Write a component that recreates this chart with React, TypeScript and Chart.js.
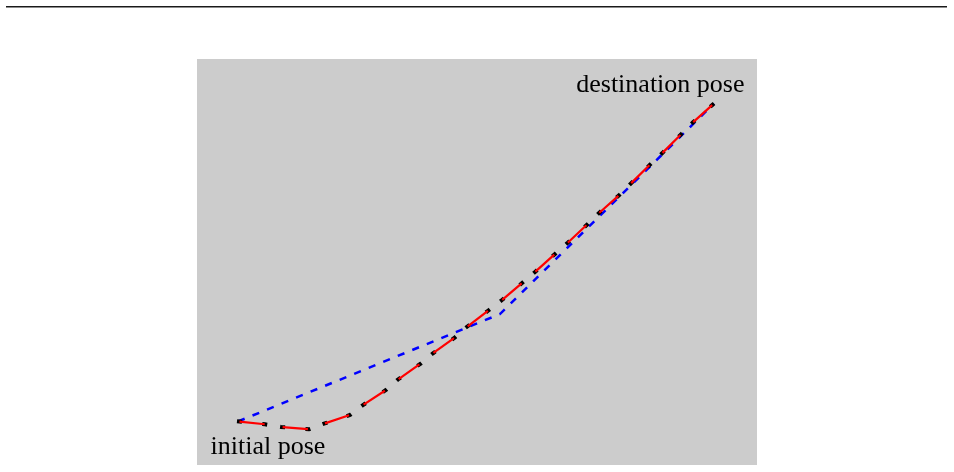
import React, { useEffect, useRef } from "react";
import { Chart, registerables } from "chart.js";

Chart.register(...registerables);

// Planned trajectory (red, with black dashed overlay ends) — data units
const pathX = [0.714, 1.214, 1.5, 2.0, 2.268, 2.732, 2.964, 3.375, 3.589, 4.0, 4.214, 4.607, 4.786, 5.214, 5.446, 5.821, 6.036, 6.393, 6.625, 6.964, 7.179, 7.536, 7.75, 8.089, 8.304, 8.643, 8.857, 9.232];
const pathY = [0.78, 0.727, 0.679, 0.638, 0.738, 0.893, 1.071, 1.339, 1.527, 1.816, 1.995, 2.28, 2.441, 2.768, 2.946, 3.263, 3.446, 3.768, 3.973, 4.291, 4.5, 4.816, 5.03, 5.363, 5.566, 5.905, 6.12, 6.455];

// Reference path (blue dashed)
const refX = [0.732, 5.411, 9.232];
const refY = [0.777, 2.696, 6.455];

const startLabel = "initial pose";
const endLabel = "destination pose";

const xRange = [0, 10];
const yRange = [0, 7.25];

const toPoints = (xs: number[], ys: number[]) => xs.map((x, i) => ({ x, y: ys[i] }));

export default function App() {
  const ref = useRef<HTMLCanvasElement | null>(null);

  useEffect(() => {
    const canvas = ref.current;
    if (!canvas) return;

    const bgPlugin = {
      id: "bg",
      beforeDraw(chart: any) {
        const { ctx, chartArea } = chart;
        ctx.save();
        ctx.fillStyle = "#cccccc";
        ctx.fillRect(chartArea.left, chartArea.top, chartArea.right - chartArea.left, chartArea.bottom - chartArea.top);
        ctx.fillStyle = "#1a1a1a";
        ctx.fillRect(6, 6, 941, 1.5);
        ctx.restore();
      },
    };

    const labelPlugin = {
      id: "labels",
      afterDatasetsDraw(chart: any) {
        const { ctx, scales } = chart;
        const xs = scales.x;
        const ys = scales.y;
        ctx.save();
        ctx.fillStyle = "#000000";
        ctx.font = '26px "Liberation Serif", "Times New Roman", serif';
        ctx.textBaseline = "alphabetic";
        const sx = xs.getPixelForValue(pathX[0]);
        const sy = ys.getPixelForValue(pathY[0]);
        ctx.textAlign = "left";
        ctx.fillText(startLabel, sx - 26.5, sy + 32.7);
        const ex = xs.getPixelForValue(pathX[pathX.length - 1]);
        const ey = ys.getPixelForValue(pathY[pathY.length - 1]);
        ctx.textAlign = "right";
        ctx.fillText(endLabel, ex + 30.5, ey - 12);
        ctx.restore();
      },
    };

    const chart = new Chart(canvas, {
      type: "scatter",
      data: {
        datasets: [
          {
            data: toPoints(pathX, pathY),
            showLine: true,
            borderColor: "#ff0000",
            borderWidth: 2.2,
            borderDash: [25.4, 18.1],
            borderDashOffset: -2.5,
            pointRadius: 0,
            tension: 0,
            fill: false,
          },
          {
            data: toPoints(pathX, pathY),
            showLine: true,
            borderColor: "#000000",
            borderWidth: 4,
            borderDash: [5, 20.4, 5, 13.1],
            pointRadius: 0,
            tension: 0,
            fill: false,
          },
          {
            data: toPoints(refX, refY),
            showLine: true,
            borderColor: "#0000ff",
            borderWidth: 2.5,
            borderDash: [7.2, 8.5],
            pointRadius: 0,
            tension: 0,
            fill: false,
          },
        ],
      },
      options: {
        responsive: false,
        animation: false,
        events: [],
        layout: { padding: { left: 197, top: 59, right: 197, bottom: 7 } },
        plugins: { legend: { display: false }, tooltip: { enabled: false }, title: { display: false } },
        scales: {
          x: { type: "linear", min: xRange[0], max: xRange[1], display: false },
          y: { type: "linear", min: yRange[0], max: yRange[1], display: false },
        },
      },
      plugins: [bgPlugin, labelPlugin],
    });

    return () => chart.destroy();
  }, []);

  return (
    <div style={{ position: "absolute", left: 0, top: 0, width: 954, height: 472, background: "#ffffff" }}>
      <canvas ref={ref} width={954} height={472} style={{ display: "block" }} />
    </div>
  );
}
